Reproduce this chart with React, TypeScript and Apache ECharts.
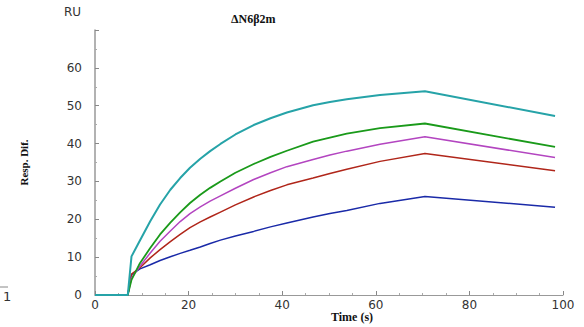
import React, { useEffect, useRef } from "react";
import * as echarts from "echarts";

const times = [0, 7, 7.8, 9.6, 11.8, 13.9, 16.1, 18.2, 20.3, 22.5, 24.6, 26.8, 30, 33.9, 37.5, 41, 46.6, 50.2, 53.8, 60.9, 70.5, 98.3];
const cyanVals = [0, 0, 10.2, 14.4, 19.5, 23.9, 27.8, 30.9, 33.6, 36.0, 38.0, 39.9, 42.4, 44.9, 46.7, 48.2, 50.1, 51.0, 51.7, 52.8, 53.8, 47.3];
const greenVals = [0, 0, 4.0, 8.4, 12.4, 16.0, 19.1, 21.8, 24.3, 26.5, 28.3, 30.0, 32.3, 34.6, 36.5, 38.1, 40.5, 41.6, 42.6, 44.1, 45.3, 39.1];
const magentaVals = [0, 0, 4.5, 7.6, 11.1, 14.2, 16.9, 19.4, 21.5, 23.3, 24.8, 26.2, 28.2, 30.5, 32.3, 33.9, 35.8, 37.0, 38.0, 39.8, 41.8, 36.3];
const redVals = [0, 0, 5.5, 7.2, 9.8, 12.0, 14.1, 16.0, 17.8, 19.3, 20.6, 21.9, 23.8, 25.9, 27.6, 29.1, 30.9, 32.1, 33.2, 35.3, 37.4, 32.8];
const blueVals = [0, 0, 5.4, 6.9, 8.0, 9.1, 10.1, 11.0, 11.8, 12.7, 13.6, 14.5, 15.6, 16.8, 18.0, 19.0, 20.6, 21.5, 22.3, 24.2, 26.0, 23.2];

const seriesDefs = [
  { name: "blue", values: blueVals, color: "#1a2aa8", width: 1.5 },
  { name: "red", values: redVals, color: "#b0261a", width: 1.5 },
  { name: "magenta", values: magentaVals, color: "#b345c0", width: 1.5 },
  { name: "green", values: greenVals, color: "#1a9a1a", width: 1.8 },
  { name: "cyan", values: cyanVals, color: "#26a3a8", width: 2 },
];

export default function App() {
  const ref = useRef<HTMLDivElement>(null);
  useEffect(() => {
    if (!ref.current) return;
    const chart = echarts.init(ref.current, null, { renderer: "svg" });
    const labelStyle = { color: "#333", fontFamily: "DejaVu Sans", fontSize: 12 };
    chart.setOption({
      animation: false,
      backgroundColor: "#fff",
      grid: { left: 95, right: 21, top: 30, bottom: 32 },
      xAxis: {
        type: "value",
        min: 0,
        max: 100,
        interval: 20,
        axisLine: { lineStyle: { color: "#999", width: 1 } },
        axisTick: { inside: true, length: 4, lineStyle: { color: "#888" } },
        minorTick: { show: true, splitNumber: 4, length: 2, lineStyle: { color: "#aaa" } },
        splitLine: { show: false },
        axisLabel: { ...labelStyle, margin: 4 },
      },
      yAxis: {
        type: "value",
        min: 0,
        max: 70,
        interval: 10,
        name: "Resp. Dif.",
        nameLocation: "middle",
        nameGap: 66,
        nameRotate: 90,
        nameTextStyle: { fontFamily: "Liberation Serif", fontWeight: "bold", fontSize: 11, color: "#111" },
        axisLine: { show: true, lineStyle: { color: "#999", width: 1.5 } },
        axisTick: { show: true, inside: true, length: 4, lineStyle: { color: "#888" } },
        minorTick: { show: true, splitNumber: 2, length: 2, lineStyle: { color: "#aaa" } },
        splitLine: { show: false },
        axisLabel: { ...labelStyle, margin: 13, showMaxLabel: false },
      },
      graphic: [
        { type: "text", left: 64, top: 6, style: { text: "RU", font: "12px 'DejaVu Sans'", fill: "#333" } },
        { type: "text", left: 231, top: 13, style: { text: "ΔN6β2m", font: "bold 12px 'Liberation Serif'", fill: "#111" } },
        { type: "text", left: 331, top: 311, style: { text: "Time (s)", font: "bold 12px 'Liberation Serif'", fill: "#111" } },
        { type: "text", left: 3, top: 290, style: { text: "1", font: "13px 'DejaVu Sans'", fill: "#333" } },
        { type: "line", shape: { x1: 0, y1: 287, x2: 8, y2: 287 }, style: { stroke: "#888", lineWidth: 1 } },
      ],
      series: seriesDefs.map((s) => ({
        type: "line",
        name: s.name,
        showSymbol: false,
        data: times.map((t, i) => [t, s.values[i]]),
        lineStyle: { color: s.color, width: s.width },
        itemStyle: { color: s.color },
      })),
    });
    return () => chart.dispose();
  }, []);
  return (
    <div
      ref={ref}
      style={{ position: "fixed", left: 0, top: 0, width: 584, height: 327, background: "#fff" }}
    />
  );
}
